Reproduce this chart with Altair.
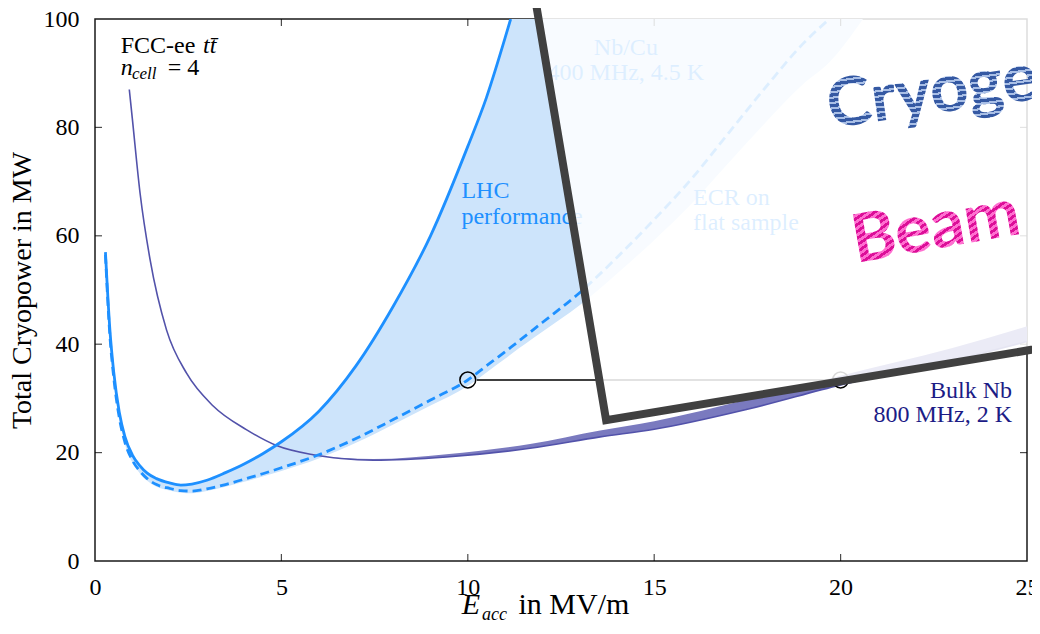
import altair as alt
import pandas as pd

SERIF = "'Liberation Serif', 'Times New Roman', 'DejaVu Serif', serif"
SANS = "Lato, 'Open Sans', sans-serif"

# ---------------- data ----------------
X_UP = [0.28, 0.4, 0.5, 0.65, 0.8, 1.0, 1.2, 1.4, 1.65, 2.0, 2.3, 2.6, 3.0, 3.5,
        4.0, 4.5, 5, 6, 7, 8, 9, 10, 10.5, 11, 11.15]
Y_LHC = [57, 42.6, 35, 27.5, 23, 19.6, 17.6, 16.2, 15.2, 14.4, 14.0, 14.2, 14.9, 16.3,
         17.9, 19.8, 22.0, 27.6, 36.0, 47, 60, 76.5, 85.5, 96.5, 100]

X_ECR = X_UP + [12, 13, 14, 15, 16, 17, 18, 19, 19.7]
Y_ECR = [56.5, 41.5, 34, 26.5, 22, 18.6, 16.6, 15.2, 14.1, 13.4, 13.0, 12.9, 13.3, 14.1,
         15.1, 16.1, 17.2, 19.6, 22.6, 26.1, 29.7, 33.4, 36, 38.6, 39.4,
         44, 49.5, 56, 63, 70.5, 79, 87.5, 95.5, 100]

X_BAND = X_ECR + [20.6]
Y_BAND_LO = [56, 41, 33.5, 26, 21.6, 18.2, 16.2, 14.8, 13.7, 13.0, 12.6, 12.5, 12.9, 13.7,
             14.6, 15.6, 16.6, 18.9, 21.8, 25.2, 28.7, 32.3, 34.8, 37.3, 38.1,
             42.3, 47.2, 53, 59.2, 65.9, 73.5, 81, 88, 92, 100]

X_NB = [0.92, 1.0, 1.21, 1.48, 1.92, 2.46, 3.17, 4.07, 4.87, 5.85, 6.6, 7.47, 9.43, 11.67,
        13.55, 15, 17.5, 20, 23, 25]
Y_NB = [87, 81.7, 67.8, 55.5, 42.6, 34.6, 28.6, 24.2, 21.3, 19.6, 18.9, 18.6, 19.2, 20.8,
        22.9, 24.3, 28, 32.5, 37, 40.5]
X_NB_BAND = [5.85, 6.6, 7.47, 9.43, 11.67, 13.55, 15, 17.5, 20, 23, 25]
Y_NB_BAND_LO = [19.6, 18.9, 18.6, 19.2, 20.8, 22.9, 24.3, 28, 32.5, 37, 40.5]
Y_NB_BAND_HI = [19.6, 19.0, 18.8, 19.7, 21.6, 24.1, 25.8, 29.8, 34.2, 39.3, 43.3]

X_MARK = [10, 20]
Y_MARK = [33.4, 33.4]

X_TICKS = [0, 5, 10, 15, 20, 25]
Y_TICKS = [0, 20, 40, 60, 80, 100]

# overlay (slide frame) corners TL, BL, BR, TR in data units
OV_X = [11.0, 13.71, 35.17, 32.46]
OV_Y = [136.7, 26.0, 50.4, 161.1]

# ---------------- helpers ----------------
XS = alt.Scale(domain=[0, 25], nice=False, zero=False)
YS = alt.Scale(domain=[0, 100], nice=False, zero=False)
XAX = alt.Axis(values=X_TICKS, title="", grid=False, domain=False, ticks=False, tickSize=0,
               labelFont=SERIF, labelFontSize=24, labelColor="black", labelPadding=14,
               labelFlush=False)
YAX = alt.Axis(values=Y_TICKS, title="Total Cryopower in MW", grid=False, domain=False,
               ticks=False, tickSize=0, labelFont=SERIF, labelFontSize=24,
               labelColor="black", labelPadding=16, titleFont=SERIF, titleFontSize=28,
               titleFontWeight="normal", titleColor="black", titlePadding=7)


def X(f):
    return alt.X(f, type="quantitative", scale=XS, axis=XAX)


def Y(f):
    return alt.Y(f, type="quantitative", scale=YS, axis=YAX)


lhc = pd.DataFrame({"x": X_UP, "y": Y_LHC})
ecr = pd.DataFrame({"x": X_ECR, "y": Y_ECR})
hi = [min(v, 100) for v in Y_LHC] + [100] * (len(X_BAND) - len(Y_LHC))
band = pd.DataFrame({"x": X_BAND, "y": Y_BAND_LO, "y2": hi})
nb = pd.DataFrame({"x": X_NB, "y": Y_NB})
nbband = pd.DataFrame({"x": X_NB_BAND, "y": Y_NB_BAND_LO, "y2": Y_NB_BAND_HI})
marks = pd.DataFrame({"x": X_MARK, "y": Y_MARK})
hline = pd.DataFrame({"x": [X_MARK[0]], "x2": [X_MARK[1]], "y": [Y_MARK[0]]})

SM = "monotone"
band_l = alt.Chart(band).mark_area(color="#cde4fb", clip=True, interpolate=SM).encode(
    x=X("x"), y=Y("y"), y2="y2")
nbband_l = alt.Chart(nbband).mark_area(color="#7a7abf", clip=True, interpolate=SM).encode(
    x=X("x"), y=Y("y"), y2="y2")
nb_l = alt.Chart(nb).mark_line(color="#5252aa", strokeWidth=1.6, clip=True,
                               interpolate=SM).encode(x=X("x"), y=Y("y"))
ecr_l = alt.Chart(ecr).mark_line(color="#1e90ff", strokeWidth=2.8, strokeDash=[9, 5],
                                 clip=True, interpolate=SM).encode(x=X("x"), y=Y("y"))
lhc_l = alt.Chart(lhc).mark_line(color="#1e90ff", strokeWidth=2.8, clip=True,
                                 interpolate=SM).encode(x=X("x"), y=Y("y"))
rule_l = alt.Chart(hline).mark_rule(color="black", strokeWidth=1.5, xOffset=9,
                                    x2Offset=-9).encode(x=X("x"), x2="x2", y=Y("y"))
pts_l = alt.Chart(marks).mark_point(shape="circle", size=250, filled=False, color="black",
                                    strokeWidth=1.5, opacity=1).encode(x=X("x"), y=Y("y"))

xt = pd.DataFrame({"v": X_TICKS[1:-1]})
yt = pd.DataFrame({"v": Y_TICKS[1:-1]})
tick_b = alt.Chart(xt).mark_tick(orient="vertical", size=7, thickness=1.2, color="black",
                                 yOffset=-3.5).encode(x=X("v"), y=alt.datum(0))
tick_t = alt.Chart(xt).mark_tick(orient="vertical", size=7, thickness=1.2, color="black",
                                 yOffset=3.5).encode(x=X("v"), y=alt.datum(100))
tick_l = alt.Chart(yt).mark_tick(orient="horizontal", size=7, thickness=1.2, color="black",
                                 xOffset=3.5).encode(y=Y("v"), x=alt.datum(0))
tick_r = alt.Chart(yt).mark_tick(orient="horizontal", size=7, thickness=1.2, color="black",
                                 xOffset=-3.5).encode(y=Y("v"), x=alt.datum(25))

# ---------------- texts ----------------
T_NORMAL = pd.DataFrame({"x": [0.69, 1.95], "y": [93.7, 89.7], "t": ["FCC-ee", "= 4"]})
T_ITAL = pd.DataFrame({"x": [2.9, 0.69], "y": [93.7, 89.7], "t": ["t\u0074\u0304", "n"]})
T_SUB = pd.DataFrame({"x": [0.99], "y": [88.9], "t": ["cell"]})
T_BLUE = pd.DataFrame({"x": [9.83, 9.83, 16.04, 16.04], "y": [67.0, 62.2, 65.7, 61.1],
                       "t": ["LHC", "performance", "ECR on", "flat sample"]})
T_BLUE_C = pd.DataFrame({"x": [14.24, 14.24], "y": [93.4, 88.7],
                         "t": ["Nb/Cu", "400 MHz, 4.5 K"]})
T_NAVY = pd.DataFrame({"x": [24.6, 24.6], "y": [30.1, 25.6],
                       "t": ["Bulk Nb", "800 MHz, 2 K"]})
T_XT = pd.DataFrame({"x": [9.84, 11.36], "y": [-9.78, -9.78], "t": ["E", "in MV/m"]})
T_XT_SUB = pd.DataFrame({"x": [10.38], "y": [-10.9], "t": ["acc"]})


def txt(df, **kw):
    return alt.Chart(df).mark_text(font=SERIF, baseline="alphabetic", **kw).encode(
        x=X("x"), y=Y("y"), text="t:N")


texts = [
    txt(T_NORMAL, fontSize=24, align="left", color="black"),
    txt(T_ITAL, fontSize=24, align="left", color="black", fontStyle="italic"),
    txt(T_SUB, fontSize=17, align="left", color="black", fontStyle="italic"),
    txt(T_BLUE, fontSize=24, align="left", color="#1e90ff"),
    txt(T_BLUE_C, fontSize=24, align="center", color="#1e90ff"),
    txt(T_NAVY, fontSize=24, align="right", color="#1c1c86"),
    txt(T_XT.iloc[[0]], fontSize=30, align="left", color="black", fontStyle="italic"),
    txt(T_XT.iloc[[1]], fontSize=30, align="left", color="black"),
    txt(T_XT_SUB, fontSize=18, align="left", color="black", fontStyle="italic"),
]

# ---------------- overlay (rotated slide frame) ----------------
TL, BL, BR, TR = [(OV_X[i], OV_Y[i]) for i in range(4)]


def lerp(p, q, x):
    return p[1] + (x - p[0]) / (q[0] - p[0]) * (q[1] - p[1])


ov_area = pd.DataFrame({
    "x": [TL[0], BL[0], TR[0], BR[0]],
    "y": [TL[1], BL[1], lerp(BL, BR, TR[0]), BR[1]],
    "y2": [TL[1], lerp(TL, TR, BL[0]), TR[1], BR[1]],
})
ov_line = pd.DataFrame({"x": [TL[0], BL[0], BR[0], TR[0], TL[0]],
                        "y": [TL[1], BL[1], BR[1], TR[1], TL[1]],
                        "i": [0, 1, 2, 3, 4]})

ov_fill = alt.Chart(ov_area).mark_area(color="white", opacity=0.85, clip=False).encode(
    x=X("x"), y=Y("y"), y2="y2")
ov_border = alt.Chart(ov_line).mark_line(color="#404040", strokeWidth=8, clip=False,
                                         strokeJoin="miter").encode(
    x=X("x"), y=Y("y"), order="i:Q")


def stripes(c1, c2, n, frac, x2, y2):
    stops = []
    for k in range(n):
        a, b, c = k / n, (k + frac) / n, (k + 1) / n
        stops += [alt.GradientStop(offset=a, color=c1), alt.GradientStop(offset=b, color=c1),
                  alt.GradientStop(offset=b, color=c2), alt.GradientStop(offset=c, color=c2)]
    return alt.LinearGradient(gradient="linear", stops=stops, x1=0, y1=0, x2=x2, y2=y2)


OV_TEXT = ["Cryogenics", "Beam"]
OV_TX = [19.72, 20.41]
OV_TY = [79.9, 55.0]

cryo = alt.Chart(pd.DataFrame({"x": [OV_TX[0]], "y": [OV_TY[0]], "t": [OV_TEXT[0]]})).mark_text(
    font=SANS, fontWeight="bold", fontSize=67, align="left", baseline="alphabetic",
    angle=352, color=stripes("#3559a3", "#a9bfe6", 15, 0.6, 0, 1)).encode(
    x=X("x"), y=Y("y"), text="t:N")
beam = alt.Chart(pd.DataFrame({"x": [OV_TX[1]], "y": [OV_TY[1]], "t": [OV_TEXT[1]]})).mark_text(
    font=SANS, fontWeight="bold", fontSize=67, align="left", baseline="alphabetic",
    angle=350, color=stripes("#dc0f98", "#ff6fd0", 26, 0.5, 1, 1)).encode(
    x=X("x"), y=Y("y"), text="t:N")

chart = alt.layer(
    band_l, nbband_l, nb_l, ecr_l, lhc_l, rule_l, pts_l,
    tick_b, tick_t, tick_l, tick_r,
    *texts,
    ov_fill, ov_border, cryo, beam,
).properties(
    width=932, height=542,
    padding={"left": 87, "top": 11, "right": 5, "bottom": 65},
    autosize=alt.AutoSizeParams(type="none"),
    background="white",
).configure_view(stroke="#1a1a1a", strokeWidth=1.5)

chart.save("out.html", embed_options={"renderer": "svg", "actions": False})
